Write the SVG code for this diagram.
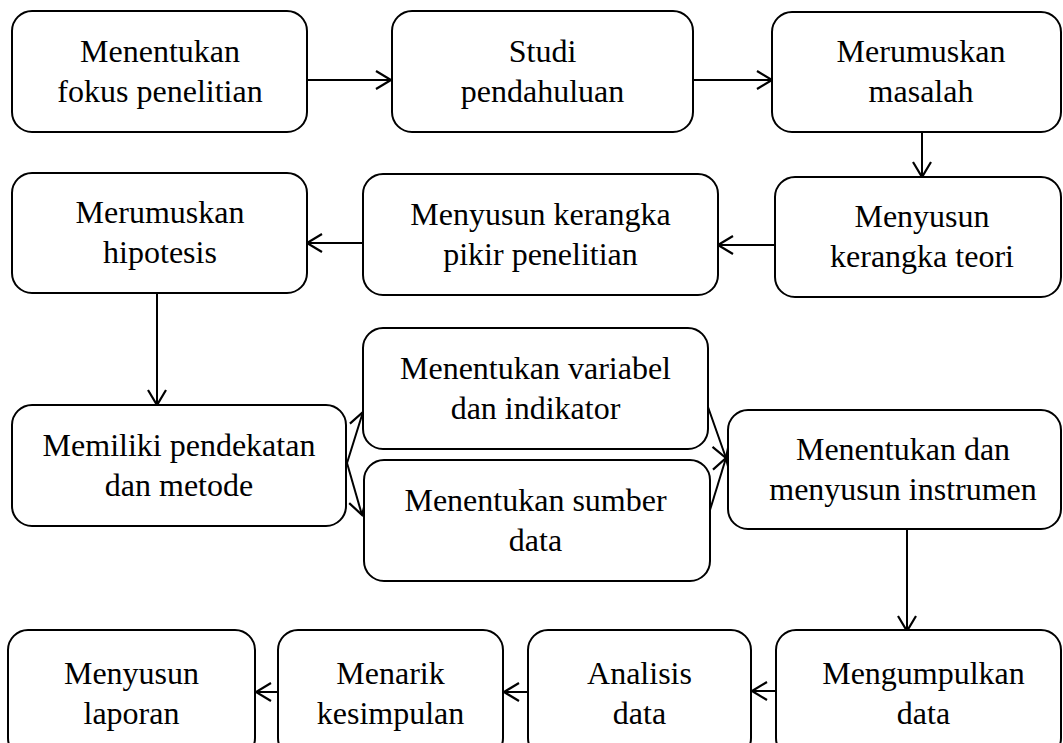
<svg xmlns="http://www.w3.org/2000/svg" width="1063" height="743" viewBox="0 0 1063 743">
<defs>
<style>
.box{fill:#fff;stroke:#000;stroke-width:2}
.t{font-family:Liberation Serif,Tinos,Times New Roman,Times,DejaVu Serif,serif;font-size:32px;fill:#000;text-anchor:middle}
.c{stroke:#000;stroke-width:2;fill:none;marker-end:url(#ah)}
</style>
<marker id="ah" markerUnits="userSpaceOnUse" markerWidth="22" markerHeight="24" refX="16" refY="10" orient="auto">
<path d="M1,1 L16,10 L1,19" fill="none" stroke="#000" stroke-width="2.2"/>
</marker>
</defs>
<rect width="1063" height="743" fill="#fff"/>
<g id="connectors">
<line class="c" x1="307" y1="80" x2="391" y2="80"/>
<line class="c" x1="693" y1="80" x2="772" y2="80"/>
<line class="c" x1="922" y1="132" x2="922" y2="177"/>
<line class="c" x1="775" y1="245" x2="718" y2="245"/>
<line class="c" x1="363" y1="243" x2="307" y2="243"/>
<line class="c" x1="157" y1="293" x2="157" y2="405"/>
<line class="c" x1="347" y1="463" x2="363" y2="412"/>
<line class="c" x1="347" y1="463" x2="362" y2="515"/>
<line class="c" x1="708" y1="407" x2="726" y2="458"/>
<line class="c" x1="710" y1="510" x2="726" y2="458"/>
<line class="c" x1="907" y1="529" x2="907" y2="631"/>
<line class="c" x1="776" y1="691" x2="752" y2="691"/>
<line class="c" x1="528" y1="692" x2="504" y2="692"/>
<line class="c" x1="278" y1="692" x2="256" y2="692"/>
</g>
<g id="n1"><rect class="box" x="12" y="11" width="295" height="121" rx="20"/><text class="t" x="160" y="61.5">Menentukan</text><text class="t" x="160" y="101.5">fokus penelitian</text></g>
<g id="n2"><rect class="box" x="392" y="11" width="301" height="121" rx="20"/><text class="t" x="542.5" y="61.5">Studi</text><text class="t" x="542.5" y="101.5">pendahuluan</text></g>
<g id="n3"><rect class="box" x="772" y="12" width="289" height="120" rx="20"/><text class="t" x="921" y="62">Merumuskan</text><text class="t" x="921" y="102">masalah</text></g>
<g id="n4"><rect class="box" x="775" y="177" width="286" height="120" rx="20"/><text class="t" x="922" y="227">Menyusun</text><text class="t" x="922" y="267">kerangka teori</text></g>
<g id="n5"><rect class="box" x="363" y="174" width="355" height="121" rx="20"/><text class="t" x="540.5" y="224.5">Menyusun kerangka</text><text class="t" x="540.5" y="264.5">pikir penelitian</text></g>
<g id="n6"><rect class="box" x="12" y="173" width="295" height="120" rx="20"/><text class="t" x="160" y="223">Merumuskan</text><text class="t" x="160" y="263">hipotesis</text></g>
<g id="n7"><rect class="box" x="12" y="405" width="334" height="121" rx="20"/><text class="t" x="179" y="455.5">Memiliki pendekatan</text><text class="t" x="179" y="495.5">dan metode</text></g>
<g id="n8"><rect class="box" x="363" y="328" width="345" height="121" rx="20"/><text class="t" x="535.5" y="378.5">Menentukan variabel</text><text class="t" x="535.5" y="418.5">dan indikator</text></g>
<g id="n9"><rect class="box" x="364" y="460" width="346" height="121" rx="20"/><text class="t" x="535.5" y="510.5">Menentukan sumber</text><text class="t" x="535.5" y="550.5">data</text></g>
<g id="n10"><rect class="box" x="728" y="410" width="333" height="119" rx="20"/><text class="t" x="903" y="459.5">Menentukan dan</text><text class="t" x="903" y="499.5">menyusun instrumen</text></g>
<g id="n11"><rect class="box" x="776" y="630" width="285" height="128" rx="20"/><text class="t" x="923.5" y="684">Mengumpulkan</text><text class="t" x="923.5" y="724">data</text></g>
<g id="n12"><rect class="box" x="528" y="630" width="223" height="128" rx="20"/><text class="t" x="639.5" y="684">Analisis</text><text class="t" x="639.5" y="724">data</text></g>
<g id="n13"><rect class="box" x="278" y="630" width="225" height="128" rx="20"/><text class="t" x="390.5" y="684">Menarik</text><text class="t" x="390.5" y="724">kesimpulan</text></g>
<g id="n14"><rect class="box" x="8" y="630" width="247" height="128" rx="20"/><text class="t" x="131.5" y="684">Menyusun</text><text class="t" x="131.5" y="724">laporan</text></g>
</svg>
